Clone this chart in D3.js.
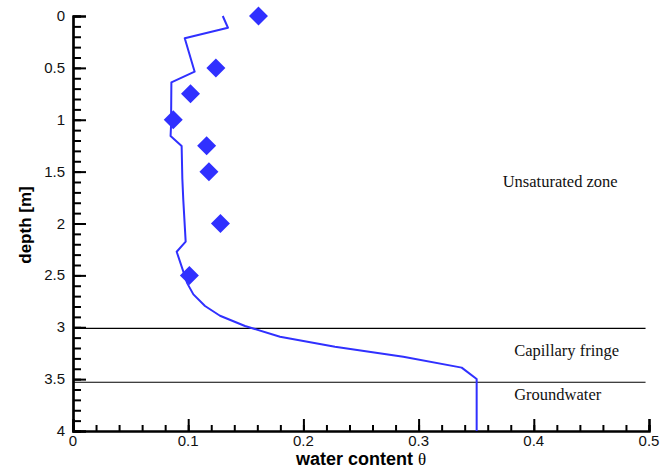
<!DOCTYPE html>
<html>
<head>
<meta charset="utf-8">
<script src="https://cdn.jsdelivr.net/npm/d3@7"></script>
<style>
html,body{margin:0;padding:0;background:#fff;}
svg{display:block;}
</style>
</head>
<body>
<svg id="chart" width="667" height="468"></svg>
<script>
// Measured water content (diamonds)
const measDepth = [0, 0.5, 0.75, 1.0, 1.25, 1.5, 2.0, 2.5];
const measTheta = [0.161, 0.124, 0.102, 0.087, 0.116, 0.118, 0.128, 0.101];

// Simulated profile (line)
const simDepth = [0, 0.113, 0.215, 0.537, 0.639, 1.06, 1.157, 1.253, 1.565, 1.765, 2.175, 2.272, 2.577, 2.683, 2.795, 2.889, 2.988, 3.091, 3.187, 3.284, 3.389, 3.499, 4.0];
const simTheta = [0.130, 0.1345, 0.097, 0.1056, 0.0854, 0.0851, 0.0847, 0.0943, 0.0949, 0.0957, 0.0978, 0.090, 0.0992, 0.1045, 0.1146, 0.1276, 0.1493, 0.1797, 0.2274, 0.2867, 0.3374, 0.3504, 0.3504];

// Zone boundaries
const boundaryDepth = [3.01, 3.53];
const zoneLabels = ["Unsaturated zone", "Capillary fringe", "Groundwater"];
const zoneLabelDepth = [1.65, 3.28, 3.7];
const zoneLabelTheta = [0.373, 0.383, 0.383];

const xTicks = [0, 0.1, 0.2, 0.3, 0.4, 0.5];
const yTicks = [0, 0.5, 1, 1.5, 2, 2.5, 3, 3.5, 4];

const svg = d3.select("#chart");
const x = d3.scaleLinear().domain([0, 0.5]).range([73, 649]);
const y = d3.scaleLinear().domain([0, 4]).range([16, 431]);
const blue = "#3030ff";

// boundary lines
svg.selectAll("line.bnd").data(boundaryDepth).enter().append("line")
  .attr("x1", x(0)).attr("x2", x(0.497))
  .attr("y1", d => y(d)).attr("y2", d => y(d))
  .attr("stroke", "#000").attr("stroke-width", 1.2);

// axes
const xMinor = d3.range(0, 0.5001, 0.02);
const yMinor = d3.range(0, 4.0001, 0.1);

const xAxisMinor = d3.axisTop(x).tickValues(xMinor).tickSize(6).tickFormat("");
const xAxis = d3.axisTop(x).tickValues(xTicks).tickSize(12).tickFormat("");
const yAxisMinor = d3.axisRight(y).tickValues(yMinor).tickSize(8).tickFormat("");
const yAxis = d3.axisRight(y).tickValues(yTicks).tickSize(13).tickFormat("");

function styleAxis(g){
  g.select(".domain").attr("stroke", "#000").attr("stroke-width", 2.2);
  g.selectAll(".tick line").attr("stroke", "#000").attr("stroke-width", 2);
}
svg.append("g").attr("transform", `translate(0,${y(4)})`).call(xAxisMinor).call(styleAxis);
svg.append("g").attr("transform", `translate(0,${y(4)})`).call(xAxis).call(styleAxis);
svg.append("g").attr("transform", `translate(${x(0)},0)`).call(yAxisMinor).call(styleAxis);
svg.append("g").attr("transform", `translate(${x(0)},0)`).call(yAxis).call(styleAxis);

// tick labels
svg.selectAll("text.xt").data(xTicks).enter().append("text")
  .attr("x", d => x(d)).attr("y", 446)
  .attr("text-anchor", "middle")
  .attr("font-family", "Liberation Sans, Arial, sans-serif").attr("font-size", 15)
  .attr("fill", "#111")
  .text(d => d3.format("")(d));
svg.selectAll("text.yt").data(yTicks).enter().append("text")
  .attr("x", 65).attr("y", d => y(d) + 5)
  .attr("text-anchor", "end")
  .attr("font-family", "Liberation Sans, Arial, sans-serif").attr("font-size", 15)
  .attr("fill", "#111")
  .text(d => d3.format("")(d));

// axis titles
const xt = svg.append("text").attr("x", 361).attr("y", 465)
  .attr("text-anchor", "middle")
  .attr("font-family", "Liberation Sans, Arial, sans-serif").attr("font-size", 18).attr("font-weight", "bold");
xt.append("tspan").text("water content ");
xt.append("tspan").attr("font-family", "Liberation Serif, Times New Roman, serif").attr("font-weight", "normal").attr("font-size", 17).text("θ");

svg.append("text").attr("transform", "translate(31,225) rotate(-90)")
  .attr("text-anchor", "middle")
  .attr("font-family", "Liberation Sans, Arial, sans-serif").attr("font-size", 17).attr("font-weight", "bold")
  .text("depth [m]");

// zone labels
svg.selectAll("text.zl").data(zoneLabels).enter().append("text")
  .attr("x", (d, i) => x(zoneLabelTheta[i])).attr("y", (d, i) => y(zoneLabelDepth[i]))
  .attr("font-family", "Liberation Serif, Times New Roman, serif").attr("font-size", 16.5)
  .attr("fill", "#111")
  .text(d => d);

// simulated line
const simData = simDepth.map((d, i) => ({d, t: simTheta[i]}));
svg.append("path").datum(simData)
  .attr("fill", "none").attr("stroke", blue).attr("stroke-width", 2)
  .attr("stroke-linejoin", "round")
  .attr("d", d3.line().x(p => x(p.t)).y(p => y(p.d)));

// measured diamonds
const measData = measDepth.map((d, i) => ({d, t: measTheta[i]}));
svg.selectAll("path.m").data(measData).enter().append("path")
  .attr("transform", p => `translate(${x(p.t)},${y(p.d)})`)
  .attr("d", "M0,-9.5L9.5,0L0,9.5L-9.5,0Z")
  .attr("fill", blue);
</script>
</body>
</html>
